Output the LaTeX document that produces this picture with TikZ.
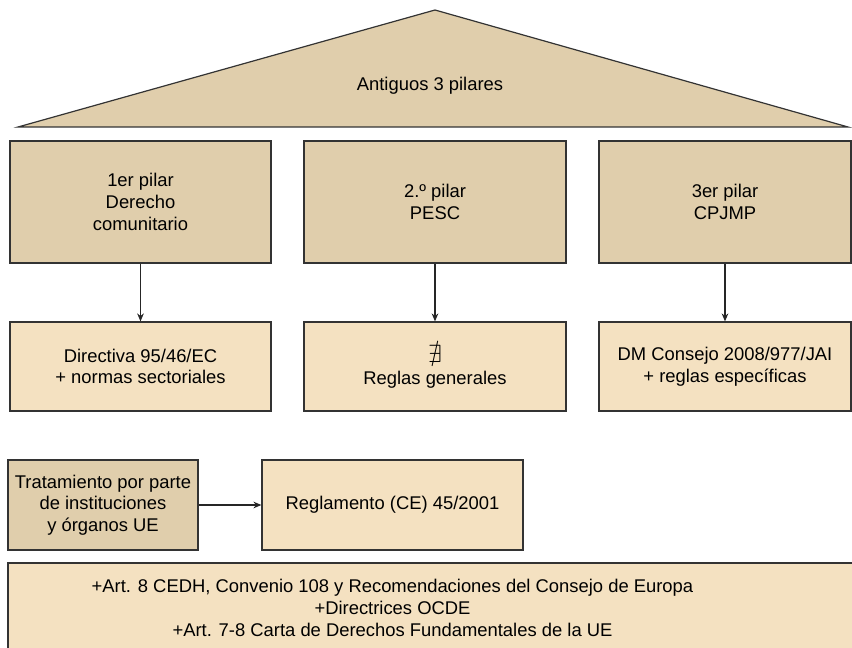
\documentclass[tikz,border=0pt]{standalone}
\usepackage{fontspec}
\setmainfont{Liberation Sans}
\usepackage{amssymb}
\usetikzlibrary{arrows.meta}
\definecolor{darkfill}{HTML}{E0CEAC}
\definecolor{lightfill}{HTML}{F4E1C1}
\definecolor{edgecol}{HTML}{333333}
\begin{document}
\begin{tikzpicture}[x=0.75pt,y=-0.75pt,
  every node/.style={font=\fontsize{13.8}{16.3}\selectfont, align=center, inner sep=0pt},
  darkbox/.style={draw=edgecol, line width=0.9pt, fill=darkfill, minimum height=91.5pt},
  lightbox/.style={draw=edgecol, line width=0.9pt, fill=lightfill, minimum height=66.75pt},
  conn/.style={draw=black!85, line width=0.9pt, -{Stealth[length=6pt,width=5pt]}}]
\useasboundingbox (0,0) rectangle (852,648);
\clip (0,0) rectangle (852,648);
% roof
\draw[edgecol, line width=0.9pt, fill=darkfill] (18,127) -- (435,10) -- (848,127) -- cycle;
\node (roof) at (430,86) {Antiguos 3 pilares};
% pillars
\node[darkbox, minimum width=195.75pt] (p1) at (140.5,202) {1er pilar\\Derecho\\comunitario};
\node[darkbox, minimum width=196.5pt] (p2) at (435,202) {2.º pilar\\PESC};
\node[darkbox, minimum width=189pt] (p3) at (725,202) {3er pilar\\CPJMP};
% rules
\node[lightbox, minimum width=195.75pt] (r1) at (140.5,366.5) {Directiva 95/46/EC\\+ normas sectoriales};
\node[lightbox, minimum width=196.5pt] (r2) at (435,366.5) {\scalebox{1.35}{$\nexists$}\\Reglas generales};
\node[lightbox, minimum width=189pt] (r3) at (725,366.5) {DM Consejo 2008/977/JAI\\+ reglas específicas};
\draw[conn] (p1.south) -- (r1.north);
\draw[conn] (p2.south) -- (r2.north);
\draw[conn] (p3.south) -- (r3.north);
% institutions
\node[darkbox, minimum width=142.5pt, minimum height=67.5pt] (t) at (103,505) {Tratamiento por parte\\de instituciones\\y órganos UE};
\node[lightbox, minimum width=195.75pt, minimum height=67.5pt] (reg) at (392.5,505) {Reglamento (CE) 45/2001};
\draw[conn] (t.east) -- (reg.west);
% bottom
\draw[edgecol, line width=0.9pt, fill=lightfill] (8,563) rectangle (880,680);
\node (ext) at (392.5,608) {+Art. 8 CEDH, Convenio 108 y Recomendaciones del Consejo de Europa\\+Directrices OCDE\\+Art. 7-8 Carta de Derechos Fundamentales de la UE};
\end{tikzpicture}
\end{document}
